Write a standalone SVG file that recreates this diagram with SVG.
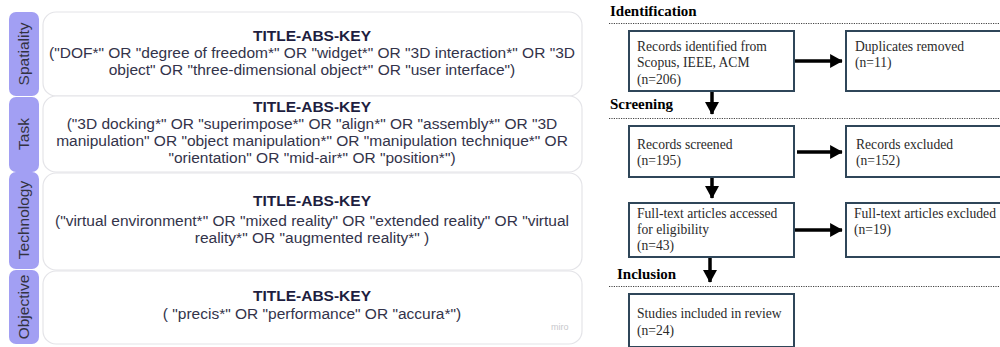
<svg xmlns="http://www.w3.org/2000/svg" width="1000" height="347" viewBox="0 0 1000 347">
<defs>
<style>
.tab{fill:#a29ff3;}
.card{fill:#ffffff;stroke:#e4e4e8;stroke-width:1.2;}
.tl{font-family:"Liberation Sans",Arial,sans-serif;font-size:15.5px;fill:#333340;text-anchor:middle;}
.tt{font-family:"Liberation Sans",Arial,sans-serif;font-size:15.5px;font-weight:bold;fill:#1e1e40;text-anchor:middle;}
.q{font-family:"Liberation Sans",Arial,sans-serif;font-size:15.5px;fill:#33334a;text-anchor:middle;}
.miro{font-family:"Liberation Sans",Arial,sans-serif;font-size:9px;fill:#c8c8cc;}
.sec{font-family:"Liberation Serif","Times New Roman",serif;font-size:15px;font-weight:bold;fill:#000;}
.dot{stroke:#444;stroke-width:1;stroke-dasharray:1.2 1.2;}
.box{fill:#fff;stroke:#2f4659;stroke-width:2;}
.bt{font-family:"Liberation Serif","Times New Roman",serif;font-size:13.6px;fill:#2a2a2a;}
.arr{stroke:#000;stroke-width:3.5;fill:none;marker-end:url(#ah);}
</style>
<marker id="ah" markerWidth="4.5" markerHeight="4.5" refX="3.4" refY="2.2" orient="auto" markerUnits="strokeWidth">
<path d="M0,0.2 L3.6,2.2 L0,4.2 Z" fill="#000"/>
</marker>
</defs>
<rect width="1000" height="347" fill="#ffffff"/>

<g id="query-spatiality">
<rect class="tab" x="9" y="12" width="30" height="84" rx="7"/>
<text class="tl" transform="translate(29,54) rotate(-90)">Spatiality</text>
<rect class="card" x="43" y="12" width="539" height="84" rx="13"/>
<text class="tt" x="312" y="41">TITLE-ABS-KEY</text>
<text class="q" x="312" y="58">("DOF*" OR "degree of freedom*" OR "widget*" OR "3D interaction*" OR "3D</text>
<text class="q" x="312" y="75">object" OR "three-dimensional object*" OR "user interface")</text>
</g>

<g id="query-task">
<rect class="tab" x="9" y="97" width="30" height="75" rx="7"/>
<text class="tl" transform="translate(29,134) rotate(-90)">Task</text>
<rect class="card" x="43" y="96" width="539" height="76" rx="13"/>
<text class="tt" x="312" y="112">TITLE-ABS-KEY</text>
<text class="q" x="312" y="129">("3D docking*" OR "superimpose*" OR "align*" OR "assembly*" OR "3D</text>
<text class="q" x="312" y="146">manipulation" OR "object manipulation*" OR "manipulation technique*" OR</text>
<text class="q" x="312" y="163">"orientation" OR "mid-air*" OR "position*")</text>
</g>

<g id="query-technology">
<rect class="tab" x="9" y="172" width="30" height="97" rx="7"/>
<text class="tl" transform="translate(29,220) rotate(-90)">Technology</text>
<rect class="card" x="43" y="173" width="539" height="97" rx="13"/>
<text class="tt" x="312" y="206">TITLE-ABS-KEY</text>
<text class="q" x="312" y="226">("virtual environment*" OR "mixed reality" OR "extended reality" OR "virtual</text>
<text class="q" x="312" y="243">reality*" OR "augmented reality*" )</text>
</g>

<g id="query-objective">
<rect class="tab" x="9" y="270" width="30" height="74" rx="7"/>
<text class="tl" transform="translate(29,307) rotate(-90)">Objective</text>
<rect class="card" x="43" y="271" width="539" height="73" rx="13"/>
<text class="tt" x="312" y="301">TITLE-ABS-KEY</text>
<text class="q" x="312" y="319">( "precis*" OR "performance" OR "accura*")</text>
<text class="miro" x="551" y="330">miro</text>
</g>

<g id="sections">
<text class="sec" x="610" y="16">Identification</text>
<line class="dot" x1="609" y1="23.5" x2="1000" y2="23.5"/>
<text class="sec" x="610" y="109">Screening</text>
<line class="dot" x1="609" y1="118.5" x2="1000" y2="118.5"/>
<text class="sec" x="617" y="279">Inclusion</text>
<line class="dot" x1="609" y1="286.5" x2="1000" y2="286.5"/>
</g>

<g id="identified">
<rect class="box" x="629" y="31" width="165" height="60"/>
<text class="bt" x="637" y="51">Records identified from</text>
<text class="bt" x="637" y="67">Scopus, IEEE, ACM</text>
<text class="bt" x="637" y="84">(n=206)</text>
</g>
<g id="duplicates">
<rect class="box" x="846" y="31" width="170" height="60"/>
<text class="bt" x="855" y="51">Duplicates removed</text>
<text class="bt" x="855" y="67">(n=11)</text>
</g>
<g id="screened">
<rect class="box" x="629" y="126" width="165" height="51"/>
<text class="bt" x="637" y="149">Records screened</text>
<text class="bt" x="637" y="165">(n=195)</text>
</g>
<g id="excluded">
<rect class="box" x="846" y="126" width="170" height="51"/>
<text class="bt" x="856" y="149">Records excluded</text>
<text class="bt" x="856" y="165">(n=152)</text>
</g>
<g id="fulltext">
<rect class="box" x="629" y="203" width="165" height="54"/>
<text class="bt" x="637" y="218">Full-text articles accessed</text>
<text class="bt" x="637" y="234">for eligibility</text>
<text class="bt" x="637" y="250">(n=43)</text>
</g>
<g id="fulltext-excluded">
<rect class="box" x="846" y="203" width="170" height="54"/>
<text class="bt" x="854" y="218">Full-text articles excluded</text>
<text class="bt" x="854" y="234">(n=19)</text>
</g>
<g id="included">
<rect class="box" x="629" y="294" width="165" height="53"/>
<text class="bt" x="637" y="318">Studies included in review</text>
<text class="bt" x="637" y="335">(n=24)</text>
</g>

<g id="connectors">
<line class="arr" x1="795" y1="61" x2="842" y2="61"/>
<line class="arr" x1="712" y1="92" x2="712" y2="114"/>
<line class="arr" x1="797" y1="152" x2="842" y2="152"/>
<line class="arr" x1="712" y1="178" x2="712" y2="198"/>
<line class="arr" x1="795" y1="230" x2="842" y2="230"/>
<line class="arr" x1="710" y1="258" x2="710" y2="282"/>
</g>
</svg>
